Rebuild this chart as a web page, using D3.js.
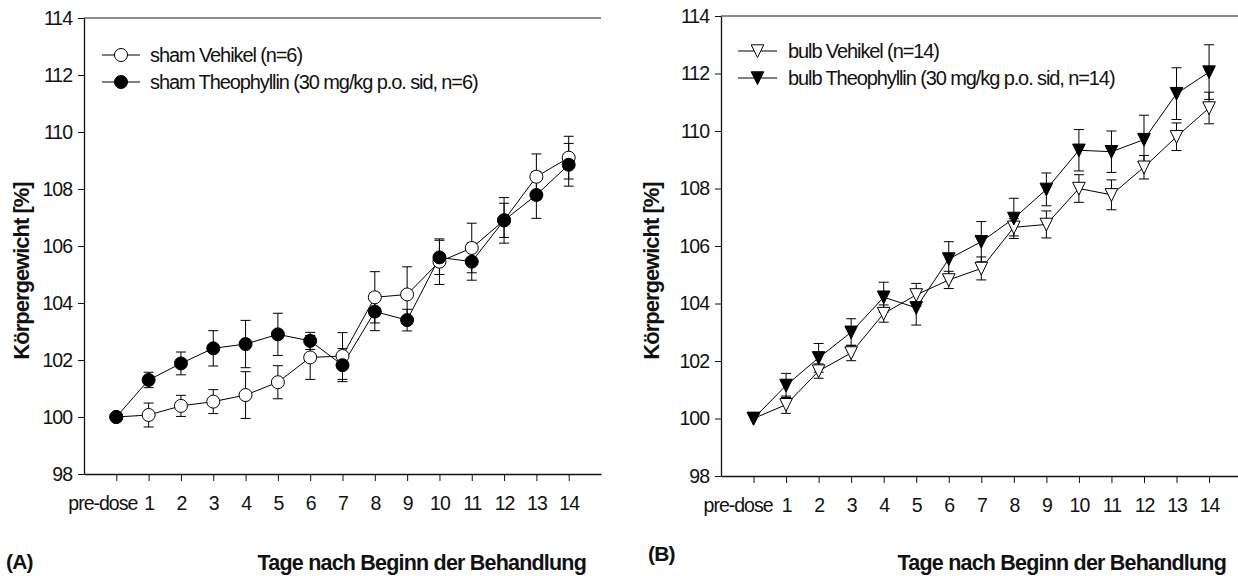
<!DOCTYPE html>
<html lang="de">
<head>
<meta charset="UTF-8">
<title>Körpergewicht</title>
<script src="https://d3js.org/d3.v7.min.js"></script>
<style>
  body { margin: 0; background: #fff; }
  svg { display: block; font-family: "Liberation Sans", Arial, sans-serif; }
</style>
</head>
<body>
<div id="chart"></div>
<script>
// x categories and y ticks
const days = ["pre-dose", "1", "2", "3", "4", "5", "6", "7", "8", "9", "10", "11", "12", "13", "14"];
const yTicks = [98, 100, 102, 104, 106, 108, 110, 112, 114];

// (A) sham
const shamVehMean = [100, 100.07, 100.39, 100.54, 100.77, 101.22, 102.09, 102.14, 104.2, 104.3, 105.45, 105.93, 106.9, 108.43, 109.1];
const shamVehSe   = [0, 0.42, 0.37, 0.42, 0.82, 0.58, 0.77, 0.82, 0.9, 0.97, 0.8, 0.87, 0.8, 0.8, 0.75];
const shamTheoMean = [100, 101.3, 101.88, 102.41, 102.56, 102.9, 102.67, 101.82, 103.7, 103.4, 105.6, 105.45, 106.9, 107.79, 108.85];
const shamTheoSe   = [0, 0.27, 0.4, 0.62, 0.83, 0.74, 0.3, 0.58, 0.67, 0.38, 0.6, 0.65, 0.6, 0.82, 0.75];

// (B) bulb
const bulbVehMean = [100, 100.48, 101.65, 102.28, 103.65, 104.3, 104.82, 105.22, 106.65, 106.75, 108.0, 107.78, 108.74, 109.8, 110.8];
const bulbVehSe   = [0, 0.3, 0.25, 0.27, 0.3, 0.4, 0.3, 0.4, 0.3, 0.47, 0.48, 0.52, 0.41, 0.48, 0.55];
const bulbTheoMean = [100, 101.15, 102.11, 103.0, 104.22, 103.85, 105.55, 106.15, 106.96, 107.97, 109.33, 109.28, 109.7, 111.3, 112.05];
const bulbTheoSe   = [0, 0.42, 0.5, 0.47, 0.52, 0.6, 0.6, 0.7, 0.7, 0.57, 0.72, 0.72, 0.85, 0.9, 0.95];

const svg = d3.select("#chart").append("svg")
    .attr("width", 1238)
    .attr("height", 576);

const triPath = "M-6.3,-6.2L6.3,-6.2L0,6.6Z";

function marker(g, shape, filled) {
    if (shape === "circle") {
        g.append("circle").attr("r", 6.5);
    } else {
        g.append("path").attr("d", triPath);
    }
    g.selectAll("circle,path")
        .attr("fill", filled ? "#000" : "#fff")
        .attr("stroke", "#000")
        .attr("stroke-width", 1);
}

function drawPanel(p) {
    const x = d3.scaleLinear().domain([-1, 15]).range(p.xRange);
    const y = d3.scaleLinear().domain([98, 114]).range(p.yRange);
    const g = svg.append("g");

    // top frame line
    g.append("line")
        .attr("x1", p.xRange[0]).attr("x2", Math.min(p.xRange[1], 1238))
        .attr("y1", y(114)).attr("y2", y(114))
        .attr("stroke", "#666").attr("stroke-width", 1.3);

    const yAxis = g.append("g")
        .attr("transform", `translate(${p.xRange[0]},0)`)
        .call(d3.axisLeft(y).tickValues(yTicks).tickSize(6).tickSizeOuter(0).tickPadding(6));
    const xAxis = g.append("g")
        .attr("transform", `translate(0,${y(98)})`)
        .call(d3.axisBottom(x).tickValues(d3.range(days.length)).tickFormat(i => days[i])
            .tickSize(7).tickSizeOuter(0).tickPadding(15));

    [yAxis, xAxis].forEach(a => {
        a.attr("font-family", null).attr("font-size", null);
        a.select(".domain").attr("stroke", "#111").attr("stroke-width", 1.3);
        a.selectAll(".tick line").attr("stroke", "#111");
        a.selectAll("text").attr("fill", "#111")
            .style("font-size", "19.5px").style("letter-spacing", "-1px");
    });
    // "pre-dose" sits left of its tick so it clears "1"
    xAxis.selectAll(".tick text").filter(i => i === 0).attr("dx", p.preDoseShift);

    const series = p.series;
    const line = d3.line().x((d, i) => x(i)).y(d => y(d));

    series.forEach(s => {
        g.append("path").datum(s.mean)
            .attr("d", line)
            .attr("fill", "none").attr("stroke", "#000").attr("stroke-width", 1);
    });

    series.forEach(s => {
        const eb = g.append("g").attr("stroke", "#000").attr("stroke-width", 1);
        s.mean.forEach((m, i) => {
            const se = s.se[i];
            if (!se) return;
            const cx = x(i), y0 = y(m - se), y1 = y(m + se);
            eb.append("line").attr("x1", cx).attr("x2", cx).attr("y1", y0).attr("y2", y1);
            eb.append("line").attr("x1", cx - 5).attr("x2", cx + 5).attr("y1", y0).attr("y2", y0);
            eb.append("line").attr("x1", cx - 5).attr("x2", cx + 5).attr("y1", y1).attr("y2", y1);
        });
    });

    series.forEach(s => {
        s.mean.forEach((m, i) => {
            const mg = g.append("g").attr("transform", `translate(${x(i)},${y(m)})`);
            marker(mg, p.shape, s.filled);
        });
    });

    // legend
    series.forEach((s, k) => {
        const ly = p.legend.y + k * p.legend.dy;
        g.append("line")
            .attr("x1", p.legend.x1).attr("x2", p.legend.x2)
            .attr("y1", ly).attr("y2", ly)
            .attr("stroke", "#000").attr("stroke-width", 1);
        const mg = g.append("g").attr("transform", `translate(${(p.legend.x1 + p.legend.x2) / 2},${ly})`);
        marker(mg, p.shape, s.filled);
        g.append("text")
            .attr("x", p.legend.tx).attr("y", ly)
            .attr("dy", "0.35em")
            .style("font-size", "20px").style("letter-spacing", "-1.1px")
            .attr("fill", "#111")
            .text(s.name);
    });

    // y axis title
    g.append("text")
        .attr("transform", `translate(${p.yTitleX},${p.yTitleY}) rotate(-90)`)
        .attr("text-anchor", "middle")
        .style("font-size", "22px").style("font-weight", "bold").style("letter-spacing", "-1px")
        .attr("fill", "#111")
        .text("Körpergewicht [%]");

    // panel tag
    g.append("text")
        .attr("x", p.tagX).attr("y", p.tagY)
        .style("font-size", "21px").style("font-weight", "bold").style("letter-spacing", "-0.8px")
        .attr("fill", "#111")
        .text(p.tag);

    // x axis title
    g.append("text")
        .attr("x", p.xTitleX).attr("y", p.xTitleY)
        .attr("text-anchor", "end")
        .style("font-size", "21.5px").style("font-weight", "bold").style("letter-spacing", "-0.8px")
        .attr("fill", "#111")
        .text("Tage nach Beginn der Behandlung");
}

drawPanel({
    xRange: [84, 601],
    yRange: [474, 18],
    shape: "circle",
    preDoseShift: -14,
    series: [
        { name: "sham Vehikel (n=6)", mean: shamVehMean, se: shamVehSe, filled: false },
        { name: "sham Theophyllin (30 mg/kg p.o. sid, n=6)", mean: shamTheoMean, se: shamTheoSe, filled: true }
    ],
    legend: { x1: 102, x2: 140, tx: 150, y: 55, dy: 27 },
    yTitleX: 29, yTitleY: 271,
    tag: "(A)", tagX: 6, tagY: 569,
    xTitleX: 586, xTitleY: 570
});

drawPanel({
    xRange: [721, 1241.6],
    yRange: [476, 16],
    shape: "triangle",
    preDoseShift: -16,
    series: [
        { name: "bulb Vehikel (n=14)", mean: bulbVehMean, se: bulbVehSe, filled: false },
        { name: "bulb Theophyllin (30 mg/kg p.o. sid, n=14)", mean: bulbTheoMean, se: bulbTheoSe, filled: true }
    ],
    legend: { x1: 738, x2: 777, tx: 788, y: 51, dy: 27 },
    yTitleX: 659, yTitleY: 271,
    tag: "(B)", tagX: 648, tagY: 561,
    xTitleX: 1226, xTitleY: 570
});
</script>
</body>
</html>
